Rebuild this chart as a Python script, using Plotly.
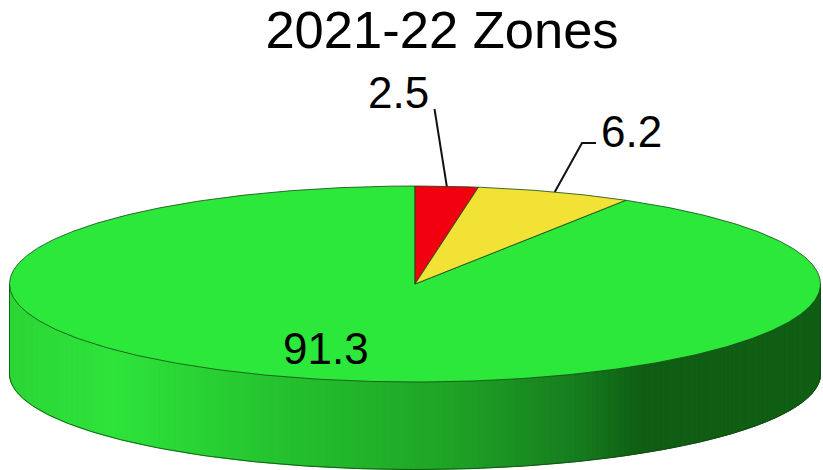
import numpy as np
import plotly.graph_objects as go

title = "2021-22 Zones"
labels = ["2.5", "6.2", "91.3"]
values = [2.5, 6.2, 91.3]
top_colors = ["#F2000F", "#F3E236", "#2CE83A"]
shade_pos = [0.0, 0.13, 0.35, 0.55, 0.70, 0.78, 1.0]
shade_col = [(44, 214, 54), (46, 228, 58), (36, 192, 46), (31, 163, 38), (22, 125, 30), (15, 94, 20), (15, 94, 20)]

W, H = 823, 470
cx, cy, rx, ry = 415, 284, 405.5, 98
base_dy, base_ry = 90, 95.5
EDGE = "rgba(20,70,20,0.8)"


def pt(t, dy=0.0, r=ry):
    t = np.asarray(t, float)
    return cx + rx * np.sin(t), cy - r * np.cos(t) + dy


fig = go.Figure()

# side wall, shaded left to right
ts = np.radians(np.linspace(270, 90, 203))
for a, b in zip(ts[:-1], ts[1:]):
    xa, ya = pt(a)
    xb, yb = pt(b)
    xa2, ya2 = pt(a, base_dy, base_ry)
    xb2, yb2 = pt(b, base_dy, base_ry)
    f = (0.5 * (xa + xb) - (cx - rx)) / (2 * rx)
    c = [int(np.interp(f, shade_pos, [s[i] for s in shade_col])) for i in range(3)]
    col = f"rgb({c[0]},{c[1]},{c[2]})"
    fig.add_trace(go.Scatter(x=[xa, xb, xb2, xa2, xa], y=[ya, yb, yb2, ya2, ya],
                             mode="lines", fill="toself", fillcolor=col,
                             line=dict(color=col, width=1), hoverinfo="skip", showlegend=False))

arc = np.radians(np.linspace(90, 270, 300))
ax, ay = pt(arc, base_dy, base_ry)
fig.add_trace(go.Scatter(x=ax, y=ay, mode="lines", line=dict(color=EDGE, width=1),
                         hoverinfo="skip", showlegend=False))
for s in (-1, 1):
    fig.add_trace(go.Scatter(x=[cx + s * rx, cx + s * rx], y=[cy, cy + base_dy], mode="lines",
                             line=dict(color=EDGE, width=1), hoverinfo="skip", showlegend=False))

# top slices, clockwise from twelve o'clock, in the order of the values
edges = np.cumsum([0] + values) / sum(values) * 2 * np.pi
order = [2, 0, 1]
for i in order:
    t = np.linspace(edges[i], edges[i + 1], max(3, int(values[i] * 8)))
    x, y = pt(t)
    fig.add_trace(go.Scatter(x=np.r_[cx, x, cx], y=np.r_[cy, y, cy], mode="lines", fill="toself",
                             fillcolor=top_colors[i], line=dict(color=EDGE, width=1),
                             name=labels[i], hoverinfo="skip", showlegend=False))

# leader lines start at each small slice's mid angle on the rim
mid = 0.5 * (edges[:-1] + edges[1:])
x0, y0 = pt(mid[0])
fig.add_trace(go.Scatter(x=[x0, 434.5], y=[y0, 109], mode="lines", line=dict(color="#111", width=2),
                         hoverinfo="skip", showlegend=False))
x1, y1 = pt(mid[1])
fig.add_trace(go.Scatter(x=[x1, 582, 596], y=[y1, 143, 143], mode="lines", line=dict(color="#111", width=2),
                         hoverinfo="skip", showlegend=False))

label_pos = [(398, 92), (631, 131), (326, 348)]
for lab, (lx, ly) in zip(labels, label_pos):
    fig.add_annotation(x=lx, y=ly, text=lab, showarrow=False, xanchor="center", yanchor="middle",
                       font=dict(family="Liberation Sans", size=44, color="#000"))

fig.update_layout(
    width=W, height=H, margin=dict(l=0, r=0, t=0, b=0),
    paper_bgcolor="white", plot_bgcolor="white", showlegend=False,
    title=dict(text=title, x=442 / W, xanchor="center", y=1 - 29.5 / H, yanchor="middle",
               font=dict(family="Liberation Sans", size=52.5, color="#000")),
    xaxis=dict(range=[0, W], visible=False, fixedrange=True),
    yaxis=dict(range=[H, 0], visible=False, fixedrange=True),
)
fig.write_html("out.html", config=dict(displayModeBar=False),
               post_script="document.body.style.margin='0';document.body.style.overflow='hidden';")
